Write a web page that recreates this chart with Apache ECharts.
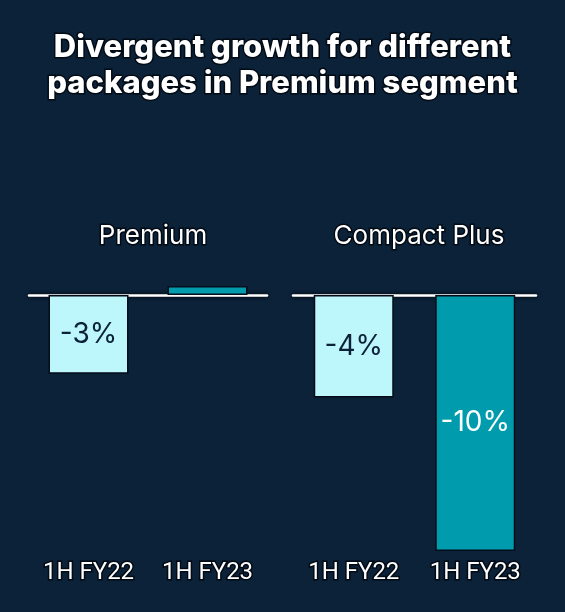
<!DOCTYPE html>
<html>
<head>
<meta charset="utf-8">
<script src="https://cdn.jsdelivr.net/npm/echarts@6/dist/echarts.min.js"></script>
<style>
  html, body { margin: 0; padding: 0; background: #0b2239; }
  #chart { width: 565px; height: 612px; }
</style>
</head>
<body>
<div id="chart"></div>
<script>
// data
var periods = ["1H FY22", "1H FY23"];
var premium = [-3, 0.34];
var compactPlus = [-4, -10];
var panelNames = ["Premium", "Compact Plus"];

var barColors = ["#bdf6fb", "#009cad"];
var labelColors = ["#0b2239", "#ffffff"];

var chart = echarts.init(document.getElementById("chart"));

var outline = { textBorderColor: "#020a14", textBorderWidth: 3 };

function zeroAxis(idx) {
  return {
    type: "category", gridIndex: idx, data: periods,
    axisLine: { onZero: true, lineStyle: { color: "#ffffff", width: 2.5, shadowColor: "#000", shadowBlur: 4 } },
    axisTick: { show: false }, axisLabel: { show: false }
  };
}
function labelAxis(idx) {
  return {
    type: "category", gridIndex: idx, data: periods, position: "bottom",
    axisLine: { show: false }, axisTick: { show: false },
    axisLabel: Object.assign({ interval: 0, color: "#ffffff", fontFamily: "Roboto", fontSize: 24, margin: 10 }, outline)
  };
}
function barSeries(idx, values) {
  return {
    type: "bar", xAxisIndex: idx * 2, yAxisIndex: idx, barWidth: 80,
    data: values.map(function (v, i) {
      return { value: v, label: { color: labelColors[i] } };
    }),
    itemStyle: {
      color: function (p) { return barColors[p.dataIndex]; },
      borderColor: "#030c18", borderWidth: 1.5
    },
    label: {
      show: true, position: "inside", fontFamily: "Inter", fontSize: 28,
      formatter: function (p) { return p.value < 0 ? p.value + "%" : ""; }
    }
  };
}

chart.setOption({
  backgroundColor: "#0b2239",
  animation: false,
  title: [
    {
      text: "Divergent growth for different\npackages in Premium segment",
      left: "center", top: 25,
      textStyle: Object.assign({ color: "#ffffff", fontFamily: "Inter", fontWeight: 800, fontSize: 31, lineHeight: 36 }, outline)
    },
    {
      text: panelNames[0], left: 148, top: 218, textAlign: "center",
      textStyle: Object.assign({ color: "#ffffff", fontFamily: "Inter", fontWeight: 400, fontSize: 26 }, outline)
    },
    {
      text: panelNames[1], left: 414, top: 218, textAlign: "center",
      textStyle: Object.assign({ color: "#ffffff", fontFamily: "Inter", fontWeight: 400, fontSize: 26 }, outline)
    }
  ],
  grid: [
    { left: 29, right: 298, top: 286, bottom: 61 },
    { left: 293, right: 29, top: 286, bottom: 61 }
  ],
  xAxis: [zeroAxis(0), labelAxis(0), zeroAxis(1), labelAxis(1)],
  yAxis: [
    { type: "value", gridIndex: 0, min: -9.74, max: 0.34, show: false, splitLine: { show: false } },
    { type: "value", gridIndex: 1, min: -10, max: 0.35, show: false, splitLine: { show: false } }
  ],
  series: [barSeries(0, premium), barSeries(1, compactPlus)]
});
</script>
</body>
</html>
